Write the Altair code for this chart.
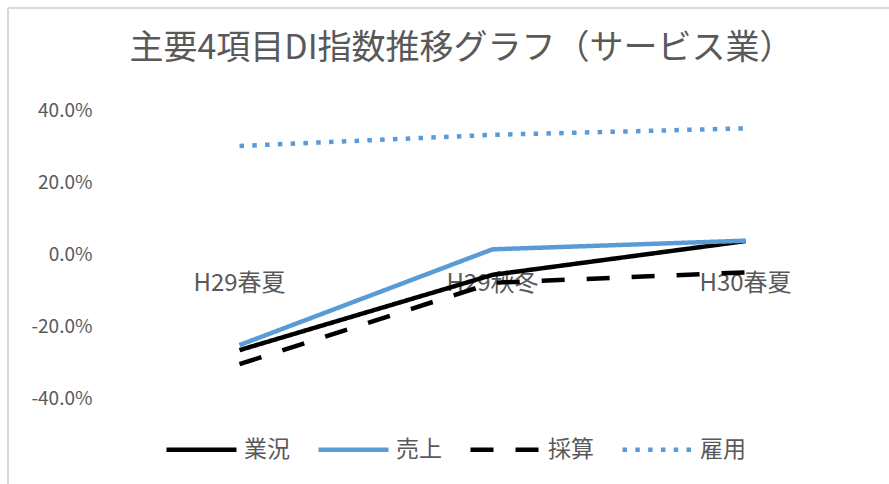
import altair as alt
import pandas as pd

FONT = "Noto Sans CJK JP"
GRAY_TEXT = "#595959"

# Survey periods and the four DI series (ratios)
periods = ["H29春夏", "H29秋冬", "H30春夏"]
series = ["業況", "売上", "採算", "雇用"]
gyokyo = [-0.267, -0.058, 0.036]
uriage = [-0.253, 0.013, 0.037]
saisan = [-0.306, -0.080, -0.051]
koyo = [0.300, 0.331, 0.349]

colors = ["#000000", "#5b9bd5", "#000000", "#5b9bd5"]
dashes = [[1, 0], [1, 0], [23, 22], [4.5, 8.3]]

rows = []
for name, vals in zip(series, [gyokyo, uriage, saisan, koyo]):
    for p, v in zip(periods, vals):
        rows.append({"series": name, "period": p, "value": v})
df = pd.DataFrame(rows)
cat_df = pd.DataFrame({"period": periods})

x_enc = alt.X("period:N", sort=periods,
              scale=alt.Scale(type="point", padding=0.5), axis=None)

legend_def = alt.Legend(
    title=None, orient="none", legendX=51, legendY=302, direction="horizontal",
    symbolType="stroke", symbolSize=4900, symbolStrokeWidth=4.5,
    labelFontSize=23, labelColor=GRAY_TEXT, labelFont=FONT,
    labelOffset=5, columnPadding=19,
)

lines = alt.Chart(df).mark_line(strokeWidth=4.5, strokeJoin="round").encode(
    x=x_enc,
    y=alt.Y("value:Q", scale=alt.Scale(domain=[-0.4, 0.4]),
            axis=alt.Axis(values=[-0.4, -0.2, 0, 0.2, 0.4], format=".1%",
                          labelExpr="replace(format(datum.value, '.1%'), '\u2212', '-')",
                          ticks=False, domain=False, labelPadding=21,
                          gridColor="#d9d9d9", gridWidth=1.3,
                          labelFontSize=19, labelColor=GRAY_TEXT, labelFont=FONT,
                          title=None)),
    color=alt.Color("series:N", sort=series,
                    scale=alt.Scale(domain=series, range=colors), legend=legend_def),
    strokeDash=alt.StrokeDash("series:N", sort=series,
                              scale=alt.Scale(domain=series, range=dashes), legend=legend_def),
)

# Category labels sit just under the zero line
cat_labels = alt.Chart(cat_df).mark_text(
    baseline="top", dy=18, fontSize=24, color=GRAY_TEXT, font=FONT
).encode(x=x_enc, y=alt.datum(0), text="period:N")

# Outer chart frame (left and top edges)
frame_data = alt.Data(values=[{}])
frame_left = alt.Chart(frame_data).mark_rule(color="#d9d9d9", strokeWidth=2).encode(
    x=alt.value(-105), y=alt.value(-102), y2=alt.value(400))
frame_top = alt.Chart(frame_data).mark_rule(color="#d9d9d9", strokeWidth=2).encode(
    y=alt.value(-102), x=alt.value(-105), x2=alt.value(800))

chart = alt.layer(frame_left, frame_top, cat_labels, lines).properties(
    width=759, height=288,
    background="white",
    autosize=alt.AutoSizeParams(type="none"),
    padding={"left": 113, "top": 110, "right": 17, "bottom": 86},
    title=alt.TitleParams("主要4項目DI指数推移グラフ（サービス業）", fontSize=34,
                          font=FONT, fontWeight="normal", color=GRAY_TEXT,
                          anchor="middle", dx=-31, baseline="bottom", offset=-93),
).configure_view(stroke=None)

chart.save("out.html", embed_options={"renderer": "svg", "actions": False})
